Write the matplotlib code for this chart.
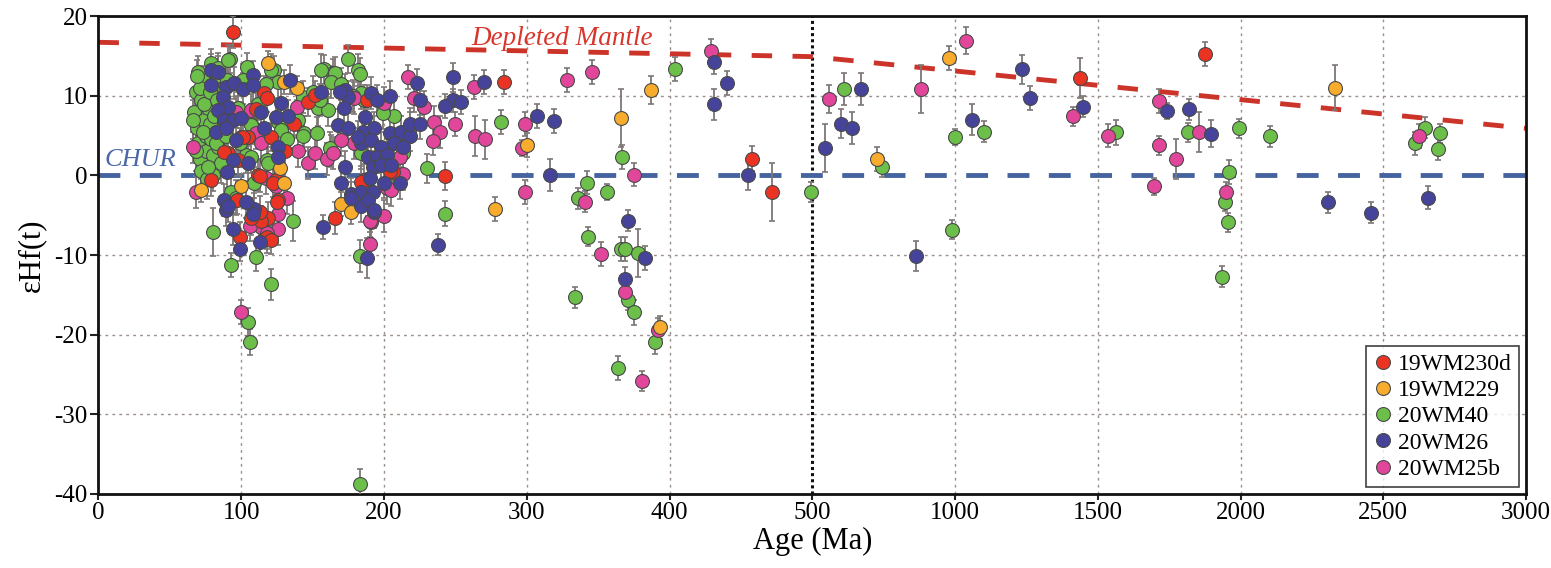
import numpy as np
import matplotlib
matplotlib.use("Agg")
import matplotlib.pyplot as plt
from matplotlib.lines import Line2D

plt.rcParams['font.family'] = ['Liberation Serif', 'DejaVu Serif']
plt.rcParams['axes.unicode_minus'] = False

# (age Ma, eHf(t), 2s error) per sample
red_pts = [(94, 18.0, 2.0), (147, 9.2, 1.8), (116, 10.3, 2.2), (105, 4.8, 2.0), (100, 4.8, 1.8),
           (91, 2.8, 2.5), (98, 1.9, 2.0), (137, 6.5, 1.8), (131, 3.1, 2.2), (112, 0.0, 2.0),
           (124, -0.6, 1.5), (126, -3.1, 2.0), (119, -5.3, 2.0), (97, -3.1, 1.8), (114, -5.7, 1.8),
           (166, -5.4, 2.0), (186, -0.6, 2.0), (206, 0.4, 1.5), (188, 9.4, 2.0), (107, -5.3, 2.2),
           (118, -7.8, 2.0), (118, 9.7, 1.8), (110, 8.3, 2.0), (152, 10.1, 1.8), (101, 4.8, 2.2),
           (88, 2.9, 2.0), (121, 4.8, 1.8), (113, -0.1, 2.0), (122, -0.9, 1.8), (79, -0.6, 2.0),
           (184, -0.8, 2.0), (204, 0.6, 1.5), (99, -7.7, 1.8), (121, -8.1, 1.8), (284, 11.7, 1.5),
           (243, -0.1, 1.8), (458, 2.1, 1.6), (472, -2.1, 3.6), (1439, 12.2, 2.5), (1874, 15.2, 1.5),
           (113, -4.6, 2.0), (125, -3.4, 2.2)]

orange_pts = [(119, 14.1, 1.5), (130, 11.7, 1.5), (139, 11.0, 1.5), (127, 0.9, 1.5), (130, -0.9, 1.5),
              (72, -1.9, 1.5), (100, -1.3, 1.5), (170, -3.6, 1.5), (177, -4.6, 1.5), (278, -4.2, 1.5),
              (300, 3.8, 1.5), (366, 7.2, 3.6), (387, 10.7, 1.8), (393, -19.1, 1.5), (726, 2.0, 1.5),
              (980, 14.7, 1.5), (2331, 11.0, 2.8)]

green_pts = [(70, 13.0, 2.0), (79, 14.1, 1.8), (92, 14.6, 1.8), (67, 8.0, 2.5), (68, 10.5, 2.0),
             (69, 6.0, 2.5), (70, 4.0, 2.0), (71, 2.0, 2.2), (72, 9.5, 2.0), (73, 11.5, 2.2),
             (74, 7.0, 2.5), (75, 5.0, 2.0), (75, 3.0, 2.2), (76, 12.0, 2.0), (77, 8.5, 2.0),
             (78, 6.5, 2.2), (79, 4.5, 2.5), (80, 10.0, 2.0), (80, 2.5, 2.0), (81, 7.5, 2.2),
             (82, 12.5, 1.8), (83, 5.5, 2.0), (84, 3.5, 2.2), (85, 9.0, 2.0), (86, 1.5, 2.5),
             (87, 6.0, 2.0), (88, 11.0, 2.0), (72, 0.5, 2.2), (76, -0.5, 2.5), (80, 0.0, 2.0),
             (84, 13.5, 1.8), (90, 12.0, 2.0), (91, 14.5, 1.8), (66, 7.0, 2.5), (68, 3.0, 2.5),
             (71, 11.0, 2.0), (74, 9.0, 2.2), (77, 1.0, 2.0), (78, 10.5, 2.0), (82, 4.0, 2.2),
             (86, 8.0, 2.0), (89, 5.0, 2.2), (73, 5.5, 2.0), (69, 12.5, 2.0), (83, 9.5, 2.0),
             (80, -7.1, 3.0), (93, -11.2, 1.5), (110, -10.2, 1.8), (136, -5.7, 2.5), (121, -13.7, 2.0),
             (105, -18.4, 1.8), (106, -20.9, 1.6), (183, -38.7, 1.8), (183, -10.1, 2.0), (93, -2.1, 2.0),
             (109, -0.9, 2.0), (118, 1.9, 2.0), (96, -2.8, 2.2),
             (104, 13.6, 1.8), (123, 13.2, 1.8), (121, 13.2, 2.0), (126, 11.7, 2.0), (158, 13.3, 1.8),
             (164, 12.8, 1.8), (175, 14.6, 1.8), (182, 13.2, 2.0), (183, 12.7, 2.0), (156, 13.2, 2.0),
             (166, 12.8, 2.0), (163, 11.7, 2.0), (143, 9.8, 2.0), (154, 8.4, 2.2), (161, 8.2, 2.0),
             (107, 6.4, 2.5), (144, 5.3, 2.2), (153, 5.3, 2.0), (163, 3.1, 2.0), (143, 5.0, 2.0),
             (126, 6.7, 2.2), (128, 5.7, 2.0), (107, 6.3, 2.0), (103, 2.5, 2.2), (119, 1.6, 2.0),
             (107, 2.3, 2.0), (162, 3.4, 2.0), (207, 7.5, 2.0), (199, 7.8, 2.0), (213, 2.8, 2.0),
             (184, 2.8, 2.0), (186, 9.4, 2.0), (184, 10.3, 2.0), (150, 10.5, 2.0), (155, 9.5, 2.0),
             (170, 11.5, 2.0), (178, 10.0, 2.0), (140, 7.0, 2.0), (132, 4.5, 2.0), (112, 9.0, 2.0),
             (117, 11.5, 2.0), (98, 8.5, 2.0), (101, 12.0, 2.0), (99, 4.0, 2.0),
             (230, 0.9, 1.8), (243, -4.8, 1.6), (282, 6.7, 1.5), (367, 2.3, 1.5), (342, -0.9, 1.5),
             (336, -2.9, 1.3), (356, -2.1, 1.0), (343, -7.7, 1.2), (366, -9.3, 1.5), (369, -9.3, 1.5),
             (378, -9.7, 3.0), (334, -15.3, 1.3), (371, -15.6, 1.3), (375, -17.2, 1.6), (364, -24.2, 1.5),
             (390, -20.9, 1.5), (404, 13.3, 1.5), (499, -2.1, 1.3), (610, 10.8, 2.0), (744, 1.0, 1.2),
             (991, -6.8, 1.2), (1001, 4.8, 1.0), (1102, 5.5, 1.3), (1563, 5.4, 1.6), (1817, 5.4, 1.2),
             (1959, 0.4, 1.5), (1945, -3.3, 1.2), (1955, -5.9, 1.2), (1934, -12.7, 1.3), (1994, 5.9, 1.2),
             (2105, 4.9, 1.3), (2612, 4.0, 1.4), (2647, 6.0, 1.3), (2697, 5.3, 1.2), (2693, 3.3, 1.4)]

blue_pts = [(79, 13.2, 2.0), (84, 13.0, 2.0), (79, 11.3, 2.0), (89, 11.1, 2.0), (95, 11.6, 2.0),
            (101, 10.9, 2.0), (108, 12.6, 1.8), (108, 11.3, 2.0), (87, 9.8, 2.0), (91, 8.6, 2.2),
            (84, 8.2, 2.0), (88, 6.9, 2.2), (94, 6.9, 2.0), (100, 7.2, 2.0), (82, 5.4, 2.2),
            (89, 5.9, 2.0), (96, 4.4, 2.0), (134, 12.0, 1.8), (128, 9.1, 2.0), (124, 7.3, 2.0),
            (114, 7.9, 2.0), (133, 7.5, 2.0), (116, 6.0, 2.2), (126, 3.5, 2.0), (126, 2.3, 2.0),
            (94, 1.9, 2.0), (105, 1.5, 2.2), (88, -3.1, 2.0), (89, -4.4, 2.0), (109, -4.2, 2.0),
            (99, -9.3, 1.5), (113, -8.4, 1.8), (94, -6.7, 2.0), (108, -4.9, 2.0), (156, 10.4, 2.0),
            (173, 10.7, 2.0), (175, 9.8, 2.0), (191, 10.3, 2.0), (204, 9.9, 2.0), (168, 6.3, 2.0),
            (175, 6.0, 2.2), (187, 7.3, 2.0), (185, 5.4, 2.0), (193, 5.9, 2.0), (204, 5.3, 2.0),
            (212, 5.4, 2.0), (218, 5.0, 2.0), (184, 4.0, 2.0), (191, 4.4, 2.0), (198, 3.5, 2.0),
            (207, 4.0, 2.0), (213, 3.5, 2.0), (189, 2.3, 2.0), (195, 2.3, 2.0), (202, 2.5, 2.0),
            (192, 1.0, 2.0), (198, 1.3, 2.0), (205, 1.3, 2.0), (190, -0.3, 2.0), (173, 1.0, 2.0),
            (170, -0.9, 2.0), (177, -2.3, 2.0), (184, -2.1, 2.0), (192, -2.1, 2.0), (200, -0.9, 2.0),
            (211, -1.0, 2.0), (218, 6.4, 2.0), (157, -6.5, 1.5), (184, -3.9, 2.0), (193, -4.6, 2.0),
            (188, -10.4, 2.5), (189, -3.1, 2.0), (193, -4.4, 2.0), (90, 0.4, 2.0), (103, -3.4, 2.0),
            (91, -3.8, 2.0), (169, 10.4, 2.0), (172, 8.4, 2.0), (182, 4.8, 2.0), (195, 9.4, 2.0),
            (177, -2.8, 2.0), (223, 11.6, 1.8), (225, 9.4, 1.8), (225, 6.4, 1.8), (248, 12.3, 1.8),
            (248, 9.4, 1.5), (243, 8.7, 1.5), (254, 9.2, 1.5), (270, 11.7, 1.5), (238, -8.7, 1.3),
            (307, 7.5, 1.5), (319, 6.8, 1.5), (316, 0.0, 2.0), (371, -5.7, 1.3), (383, -10.4, 1.5),
            (369, -13.0, 1.5), (431, 14.2, 1.5), (440, 11.6, 1.5), (431, 8.9, 2.0), (455, 0.1, 2.0),
            (546, 3.4, 3.0), (602, 6.5, 1.8), (638, 5.9, 2.0), (669, 10.8, 2.0), (864, -10.1, 1.9),
            (1058, 7.0, 1.9), (1234, 13.3, 1.8), (1263, 9.7, 1.5), (1450, 8.6, 1.3), (1743, 8.1, 1.0),
            (1821, 8.3, 1.3), (1895, 5.2, 1.7), (2306, -3.4, 1.3), (2458, -4.7, 1.3), (2658, -2.8, 1.4)]

pink_pts = [(66, 3.5, 2.0), (68, -2.1, 2.0), (96, 7.9, 2.0), (110, 5.3, 2.0), (114, 4.0, 2.0),
            (107, 8.2, 2.0), (140, 3.1, 2.0), (147, 1.5, 2.0), (152, 2.8, 2.0), (160, 2.1, 2.0),
            (164, 2.8, 2.0), (139, 8.6, 2.0), (179, 9.7, 2.0), (179, 4.0, 2.0), (170, 4.4, 2.0),
            (117, -0.3, 2.0), (124, -1.3, 2.0), (132, -2.8, 2.0), (126, -4.8, 2.0), (114, -6.5, 2.0),
            (100, -17.2, 1.5), (200, -5.1, 2.0), (191, -5.9, 2.0), (190, -8.6, 1.5), (213, 0.2, 2.0),
            (202, -1.6, 2.0), (186, 4.4, 2.0), (200, 9.1, 2.0), (211, 2.3, 2.0), (205, -1.9, 2.0),
            (190, -5.7, 2.0), (126, -6.7, 2.0), (118, -7.3, 2.0), (106, -6.3, 2.0),
            (217, 12.3, 1.5), (221, 9.7, 1.8), (228, 8.6, 2.0), (218, 6.0, 2.0), (235, 6.7, 2.0),
            (239, 5.4, 2.0), (234, 4.3, 1.8), (250, 6.4, 1.5), (263, 11.1, 1.5), (264, 4.9, 2.5),
            (271, 4.5, 2.5), (299, 6.5, 1.5), (297, 3.4, 1.0), (299, -2.1, 1.5), (328, 12.0, 1.5),
            (346, 13.0, 1.5), (375, 0.1, 1.5), (341, -3.3, 1.3), (352, -9.9, 1.5), (369, -14.6, 1.3),
            (392, -19.4, 1.5), (381, -25.8, 1.3), (429, 15.6, 1.5), (560, 9.6, 1.8), (881, 10.8, 3.0),
            (1037, 16.9, 1.7), (1414, 7.4, 1.2), (1535, 5.0, 1.5), (1715, 9.3, 1.5), (1715, 3.8, 1.2),
            (1697, -1.4, 1.1), (1775, 2.0, 2.5), (1856, 5.4, 2.5), (1948, -2.1, 1.3), (2626, 4.9, 1.5)]

labels = ['19WM230d', '19WM229', '20WM40', '20WM26', '20WM25b']
colors = ['#ea3323', '#f8ac2e', '#6cc04a', '#45449a', '#e2469b']

# reference lines
dm_age = [0, 500, 3000]
dm_ehf = [16.7, 14.9, 5.9]
chur_ehf = 0.0


def fwd(x):
    x = np.asarray(x, dtype=float)
    return np.where(x <= 500, x / 500.0, 1.0 + (x - 500.0) / 2500.0)


def inv(u):
    u = np.asarray(u, dtype=float)
    return np.where(u <= 1.0, u * 500.0, 500.0 + (u - 1.0) * 2500.0)


fig = plt.figure(figsize=(15.51, 5.68), dpi=100)
ax = fig.add_axes([0.0635, 0.1303, 0.9204, 0.8415])
ax.set_xscale('function', functions=(fwd, inv))
ax.set_xlim(0, 3000)
ax.set_ylim(-40, 20)

xt = [0, 100, 200, 300, 400, 500, 1000, 1500, 2000, 2500, 3000]
ax.set_xticks(xt)
ax.set_xticklabels([str(v) for v in xt])
ax.set_yticks([-40, -30, -20, -10, 0, 10, 20])
ax.tick_params(axis='both', labelsize=18, direction='out', width=1.5, color='#222222', pad=2)
ax.tick_params(axis='y', length=6)
ax.tick_params(axis='x', length=4)

for v in [100, 200, 300, 400, 1000, 1500, 2000, 2500]:
    ax.axvline(v, color='#9a8f8a', lw=1.0, ls=(0, (2, 3)), zorder=0)
for v in [10, -10, -20, -30]:
    ax.axhline(v, color='#9a8f8a', lw=1.0, ls=(0, (2, 3)), zorder=0)
ax.axvline(500, color='#111111', lw=2.2, ls=(0, (1, 1)), zorder=1)

ax.plot(dm_age, dm_ehf, color='#cc3329', lw=3.5, dashes=(4.2, 4.2), zorder=2)
ax.axhline(chur_ehf, color='#45649f', lw=3.5, dashes=(4.5, 4.0), zorder=2)
ax.text(261, 17.2, 'Depleted Mantle', color='#d8362c', style='italic', fontsize=19.5,
        ha='left', va='center')
ax.text(4, 1.9, 'CHUR', color='#4a67a8', style='italic', fontsize=19, ha='left', va='center')

series = [green_pts, pink_pts, red_pts, orange_pts, blue_pts]
order = [2, 4, 0, 1, 3]
for pts, k in zip(series, order):
    a = [p[0] for p in pts]
    e = [p[1] for p in pts]
    s = [p[2] for p in pts]
    ax.errorbar(a, e, yerr=s, fmt='none', ecolor='#7d7775', elinewidth=1.3,
                capsize=2.5, capthick=1.2, zorder=3)
    ax.plot(a, e, 'o', ls='none', ms=10, mfc=colors[k], mec='#4a4a4a', mew=0.8, zorder=4)

for sp in ax.spines.values():
    sp.set_linewidth(2.0)
    sp.set_color('#111111')

ax.set_xlabel('Age (Ma)', fontsize=22, labelpad=2)
ax.set_ylabel('\u03b5Hf(t)', fontsize=22, labelpad=6)

handles = [Line2D([], [], marker='o', ls='none', ms=10, mfc=c, mec='#4a4a4a', mew=0.8)
           for c in colors]
leg = ax.legend(handles, labels, loc='lower right', fontsize=17, frameon=True, fancybox=False,
                handlelength=0.8, handletextpad=0.25, labelspacing=0.2, borderpad=0.3,
                borderaxespad=0.3)
leg.get_frame().set_edgecolor('#111111')
leg.get_frame().set_linewidth(1.2)
leg.set_zorder(10)

fig.savefig('out.png', dpi=100)
